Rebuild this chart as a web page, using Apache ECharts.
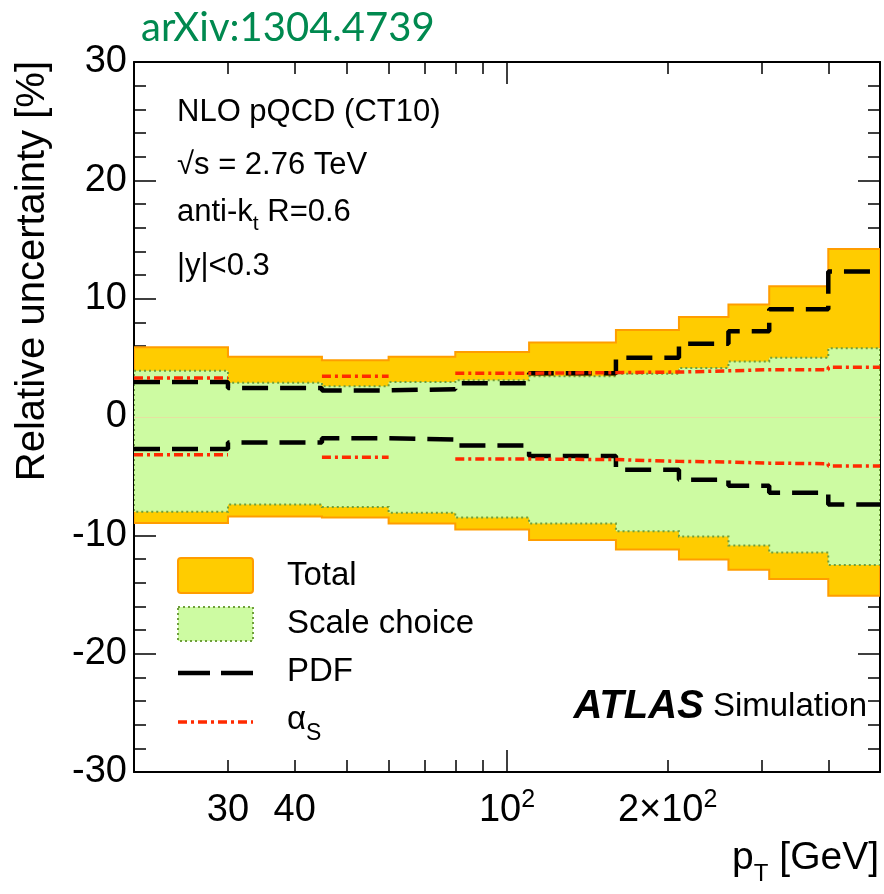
<!DOCTYPE html>
<html>
<head>
<meta charset="utf-8">
<script src="https://cdn.jsdelivr.net/npm/echarts@6.0.0/dist/echarts.min.js"></script>
<style>
  html, body { margin: 0; padding: 0; background: #fff; }
  #chart { width: 884px; height: 894px; }
</style>
</head>
<body>
<div id="chart"></div>
<script>
// Jet pT bin edges [GeV]
const binEdges = [20, 30, 45, 60, 80, 110, 160, 210, 260, 310, 400, 500];

// Relative uncertainties [%] per bin
const totalUp   = [5.9, 5.1, 4.8, 5.1, 5.5, 6.3, 7.35, 8.45, 9.5, 11.05, 14.2];
const totalDown = [-8.95, -8.4, -8.5, -9.0, -9.5, -10.4, -11.2, -12.05, -12.9, -13.7, -15.1];
const scaleUp   = [3.9, 2.9, 2.6, 2.95, 3.1, 3.45, 3.65, 4.15, 4.7, 5.0, 5.8];
const scaleDown = [-8.0, -7.4, -7.6, -8.1, -8.5, -9.0, -9.65, -10.1, -10.85, -11.45, -12.5];
const pdfUp     = [2.95, 2.45, 2.25, 2.35, 2.85, 3.7, 5.0, 6.2, 7.25, 9.1, 12.3];
const pdfDown   = [-2.7, -2.15, -1.8, -1.9, -2.4, -3.3, -4.45, -5.3, -5.8, -6.4, -7.4];
const alphaUp   = [3.3, null, 3.45, null, 3.7, 3.75, 3.8, 3.9, 4.0, 4.0, 4.2];
const alphaDown = [-3.2, null, -3.4, null, -3.55, -3.6, -3.75, -3.8, -3.9, -3.95, -4.15];

// Axis ticks and labels
const xMinorTicks = [30, 40, 50, 60, 70, 80, 90, 200, 300, 400];
const xMajorTicks = [100];
const xLabelValues = [30, 40, 100, 200];
const xLabelTexts = ['30', '40', '10^2', '2\u00d710^2'];
const yMin = -30, yMax = 30, yStep = 10;

const FONT = '"Liberation Sans", Arial, Helvetica, sans-serif';
const LOG_MIN = Math.log10(binEdges[0]);
const LOG_MAX = Math.log10(binEdges[binEdges.length - 1]);

// Step-histogram points; null bins break the line
function stepPoints(values) {
  const pts = [];
  for (let i = 0; i < values.length; i++) {
    const v = values[i];
    if (v === null) continue;
    pts.push([binEdges[i], v]);
    const next = values[i + 1];
    if (i === values.length - 1 || next === null) {
      pts.push([binEdges[i + 1], v]);
      if (next === null) pts.push([binEdges[i + 1], null]);
    }
  }
  return pts;
}

// Filled band between two step histograms, drawn as one polygon
function bandRenderer(lo, hi, style) {
  return function (params, api) {
    const top = [], bottom = [];
    for (let i = 0; i < hi.length; i++) {
      top.push(api.coord([binEdges[i], hi[i]]), api.coord([binEdges[i + 1], hi[i]]));
      bottom.push(api.coord([binEdges[i], lo[i]]), api.coord([binEdges[i + 1], lo[i]]));
    }
    return {
      type: 'polygon',
      shape: { points: top.concat(bottom.reverse()) },
      style: style
    };
  };
}

function labelRich(text) {
  const m = text.match(/^(.*)\^(.*)$/);
  if (m) return '{b|' + m[1] + '}{sup|' + m[2] + '}';
  return '{b|' + text + '}';
}

function tickAxis(position, ticks, length, showLine, withLabels) {
  const ax = {
    type: 'value',
    gridIndex: 0,
    position: position,
    min: LOG_MIN,
    max: LOG_MAX,
    splitLine: { show: false },
    axisLine: { show: showLine, onZero: false, lineStyle: { color: '#000', width: 2 } },
    axisTick: {
      show: true, inside: true, length: length,
      customValues: ticks.map(v => Math.log10(v)),
      lineStyle: { color: '#000', width: 1.5 }
    },
    axisLabel: { show: false }
  };
  if (withLabels) {
    ax.axisLabel = {
      show: true,
      margin: 16,
      customValues: xLabelValues.map(v => Math.log10(v)),
      formatter: function (val) {
        for (let i = 0; i < xLabelValues.length; i++) {
          if (Math.abs(Math.log10(xLabelValues[i]) - val) < 1e-6) return labelRich(xLabelTexts[i]);
        }
        return '';
      },
      rich: {
        b: { fontFamily: FONT, fontSize: 38, color: '#000', lineHeight: 46, verticalAlign: 'middle' },
        sup: { fontFamily: FONT, fontSize: 25, color: '#000', lineHeight: 26, verticalAlign: 'top' }
      }
    };
  }
  return ax;
}

function valueYAxis(position, withLabels) {
  return {
    type: 'value',
    gridIndex: 0,
    position: position,
    min: yMin, max: yMax, interval: yStep,
    splitLine: { show: false },
    axisLine: { show: true, onZero: false, lineStyle: { color: '#000', width: 2 } },
    axisTick: { show: true, inside: true, length: 22, lineStyle: { color: '#000', width: 1.5 } },
    minorTick: { show: true, splitNumber: 5, length: 12, lineStyle: { color: '#000', width: 1.5 } },
    axisLabel: withLabels
      ? { show: true, margin: 7, fontFamily: FONT, fontSize: 38, color: '#000' }
      : { show: false }
  };
}

const chart = echarts.init(document.getElementById('chart'), null, { renderer: 'canvas' });

const option = {
  animation: false,
  backgroundColor: '#fff',
  grid: { left: 134, right: 4, top: 62, bottom: 122, containLabel: false },
  xAxis: [
    { type: 'log', logBase: 10, min: binEdges[0], max: binEdges[binEdges.length - 1], show: false, gridIndex: 0 },
    tickAxis('bottom', xMinorTicks, 12, true, true),
    tickAxis('bottom', xMajorTicks, 22, false, false),
    tickAxis('top', xMinorTicks, 12, true, false),
    tickAxis('top', xMajorTicks, 22, false, false)
  ],
  yAxis: [
    valueYAxis('left', true),
    valueYAxis('right', false)
  ],
  series: [
    {
      name: 'Total', type: 'custom', xAxisIndex: 0, yAxisIndex: 0, clip: true,
      data: [[binEdges[0], 0]],
      renderItem: bandRenderer(totalDown, totalUp, { fill: '#ffcc00', stroke: '#ff9d00', lineWidth: 2 })
    },
    {
      name: 'Scale choice', type: 'custom', xAxisIndex: 0, yAxisIndex: 0, clip: true,
      data: [[binEdges[0], 0]],
      renderItem: bandRenderer(scaleDown, scaleUp, { fill: '#cdfba2', stroke: '#6f9f3c', lineWidth: 2, lineDash: [2, 3] }),
      markLine: {
        silent: true, symbol: 'none', label: { show: false },
        lineStyle: { color: 'rgba(232,222,160,0.9)', width: 1, type: 'solid' },
        data: [{ yAxis: 0 }]
      }
    },
    {
      name: 'PDF', type: 'line', step: 'end', xAxisIndex: 0, yAxisIndex: 0,
      showSymbol: false, symbol: 'none', connectNulls: false,
      lineStyle: { color: '#000', width: 4.5, type: [26, 12] },
      data: stepPoints(pdfUp)
    },
    {
      name: 'PDF', type: 'line', step: 'end', xAxisIndex: 0, yAxisIndex: 0,
      showSymbol: false, symbol: 'none', connectNulls: false,
      lineStyle: { color: '#000', width: 4.5, type: [26, 12] },
      data: stepPoints(pdfDown)
    },
    {
      name: 'alphaS', type: 'line', step: 'end', xAxisIndex: 0, yAxisIndex: 0,
      showSymbol: false, symbol: 'none', connectNulls: false,
      lineStyle: { color: '#ff2a00', width: 3.5, type: [9, 4, 3, 4] },
      data: stepPoints(alphaUp)
    },
    {
      name: 'alphaS', type: 'line', step: 'end', xAxisIndex: 0, yAxisIndex: 0,
      showSymbol: false, symbol: 'none', connectNulls: false,
      lineStyle: { color: '#ff2a00', width: 3.5, type: [9, 4, 3, 4] },
      data: stepPoints(alphaDown)
    }
  ],
  graphic: {
    elements: [
      // reference tag
      { type: 'text', x: 141, y: 28, z: 10,
        style: { text: 'arXiv:1304.4739', font: '40px Lato, "Open Sans", sans-serif', fill: '#00894f',
                 align: 'left', verticalAlign: 'middle' } },
      // axis titles
      { type: 'text', x: 33, y: 61, rotation: Math.PI / 2, z: 10,
        style: { text: 'Relative uncertainty [%]', font: '40px ' + FONT, fill: '#000',
                 align: 'right', verticalAlign: 'middle' } },
      { type: 'text', x: 879, y: 858, z: 10,
        style: { text: '{m|p}{s|T}{m| [GeV]}', align: 'right', verticalAlign: 'middle',
                 rich: {
                   m: { fontFamily: FONT, fontSize: 39, lineHeight: 56, verticalAlign: 'middle', fill: '#000' },
                   s: { fontFamily: FONT, fontSize: 24, lineHeight: 22, verticalAlign: 'bottom', fill: '#000' }
                 } } },
      // physics annotations
      { type: 'text', x: 177, y: 112, z: 10,
        style: { text: 'NLO pQCD (CT10)', font: '31px ' + FONT, fill: '#000', align: 'left', verticalAlign: 'middle' } },
      { type: 'text', x: 177, y: 165, z: 10,
        style: { text: '\u221as = 2.76 TeV', font: '31px ' + FONT, fill: '#000', align: 'left', verticalAlign: 'middle' } },
      { type: 'text', x: 177, y: 212, z: 10,
        style: { text: '{m|anti-k}{s|t}{m| R=0.6}', align: 'left', verticalAlign: 'middle',
                 rich: {
                   m: { fontFamily: FONT, fontSize: 31, lineHeight: 46, verticalAlign: 'middle', fill: '#000' },
                   s: { fontFamily: FONT, fontSize: 21, lineHeight: 22, verticalAlign: 'bottom', fill: '#000' }
                 } } },
      { type: 'text', x: 177, y: 266, z: 10,
        style: { text: '|y|<0.3', font: '31px ' + FONT, fill: '#000', align: 'left', verticalAlign: 'middle' } },
      // legend
      { type: 'rect', z: 10, shape: { x: 178, y: 558, width: 75, height: 35, r: 3 },
        style: { fill: '#ffcc00', stroke: '#ff9d00', lineWidth: 2 } },
      { type: 'rect', z: 10, shape: { x: 178, y: 607, width: 75, height: 34 },
        style: { fill: '#cdfba2', stroke: '#6f9f3c', lineWidth: 2, lineDash: [2, 3] } },
      { type: 'line', z: 10, shape: { x1: 178, y1: 673, x2: 253, y2: 673 },
        style: { stroke: '#000', lineWidth: 4.5, lineDash: [32, 11] } },
      { type: 'line', z: 10, shape: { x1: 178, y1: 722, x2: 253, y2: 722 },
        style: { stroke: '#ff2a00', lineWidth: 3.5, lineDash: [9, 4, 3, 4] } },
      { type: 'text', x: 287, y: 576, z: 10,
        style: { text: 'Total', font: '33px ' + FONT, fill: '#000', align: 'left', verticalAlign: 'middle' } },
      { type: 'text', x: 287, y: 624, z: 10,
        style: { text: 'Scale choice', font: '33px ' + FONT, fill: '#000', align: 'left', verticalAlign: 'middle' } },
      { type: 'text', x: 287, y: 672, z: 10,
        style: { text: 'PDF', font: '33px ' + FONT, fill: '#000', align: 'left', verticalAlign: 'middle' } },
      { type: 'text', x: 287, y: 720, z: 10,
        style: { text: '{m|\u03b1}{s|S}', align: 'left', verticalAlign: 'middle',
                 rich: {
                   m: { fontFamily: FONT, fontSize: 33, lineHeight: 50, verticalAlign: 'middle', fill: '#000' },
                   s: { fontFamily: FONT, fontSize: 23, lineHeight: 22, verticalAlign: 'bottom', fill: '#000' }
                 } } },
      // experiment label
      { type: 'text', x: 867, y: 707, z: 10,
        style: { text: '{a|ATLAS}{g| }{b|Simulation}', align: 'right', verticalAlign: 'middle',
                 rich: {
                   a: { fontFamily: FONT, fontSize: 40, fontWeight: 'bold', fontStyle: 'italic', fill: '#000', verticalAlign: 'middle' },
                   g: { fontFamily: FONT, fontSize: 33, fill: '#000', verticalAlign: 'middle' },
                   b: { fontFamily: FONT, fontSize: 33, fill: '#000', verticalAlign: 'middle' }
                 } } }
    ]
  }
};

chart.setOption(option);
</script>
</body>
</html>
